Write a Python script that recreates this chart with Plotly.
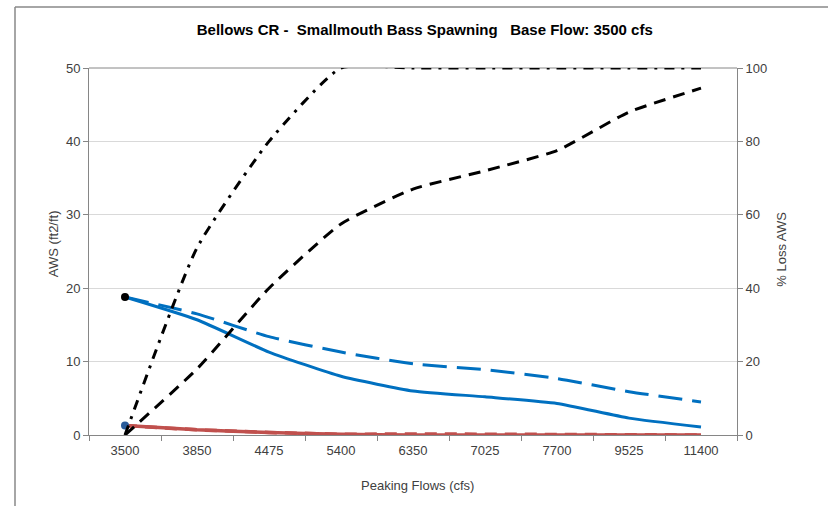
import plotly.graph_objects as go

flows = ["3500", "3850", "4475", "5400", "6350", "7025", "7700", "9525", "11400"]

aws_solid = [18.8, 15.7, 11.3, 8.0, 6.0, 5.2, 4.3, 2.3, 1.1]
aws_dashed = [18.8, 16.5, 13.4, 11.3, 9.7, 8.9, 7.7, 5.9, 4.5]
aws_red = [1.3, 0.7, 0.35, 0.1, 0.0, 0.0, 0.0, 0.0, 0.0]
aws_red_dashed = [1.3, 0.7, 0.35, 0.1, 0.15, 0.1, 0.0, 0.0, 0.0]
loss_dashdot = [0, 51, 80, 100, 100, 100, 100, 100, 100]
loss_dashed = [0, 18, 40, 57.5, 67, 72, 77.5, 88, 94.5]
base_aws_hi = [18.8]
base_aws_lo = [1.3]
base_flow = ["3500"]

BLUE = "#0070C0"
RED = "#C0504D"
FONT = "Liberation Sans, Arial, sans-serif"
TXT = "#404040"

fig = go.Figure()

fig.add_trace(go.Scatter(x=flows, y=loss_dashdot, yaxis="y2", mode="lines",
                         line=dict(color="black", width=3, dash="10px,7px,3px,7px", shape="spline", smoothing=0.5),
                         cliponaxis=False, showlegend=False))
fig.add_trace(go.Scatter(x=flows, y=loss_dashed, yaxis="y2", mode="lines",
                         line=dict(color="black", width=3, dash="12px,8px", shape="spline", smoothing=0.5),
                         showlegend=False))
fig.add_trace(go.Scatter(x=flows, y=aws_red_dashed, mode="lines",
                         line=dict(color=RED, width=3.5, dash="12px,8px"),
                         showlegend=False))
fig.add_trace(go.Scatter(x=flows, y=aws_red, mode="lines",
                         line=dict(color=RED, width=3.5, shape="spline", smoothing=0.4),
                         showlegend=False))
fig.add_trace(go.Scatter(x=flows, y=aws_dashed, mode="lines",
                         line=dict(color=BLUE, width=3, dash="24px,10px", shape="spline", smoothing=0.5),
                         showlegend=False))
fig.add_trace(go.Scatter(x=flows, y=aws_solid, mode="lines",
                         line=dict(color=BLUE, width=3, shape="spline", smoothing=0.5),
                         showlegend=False))
fig.add_trace(go.Scatter(x=base_flow, y=base_aws_hi, mode="markers",
                         marker=dict(color="black", size=8), showlegend=False))
fig.add_trace(go.Scatter(x=base_flow, y=base_aws_lo, mode="markers",
                         marker=dict(color="#2A5C9A", size=8), showlegend=False))

TITLE = "Bellows CR -&nbsp; Smallmouth Bass Spawning&nbsp;&nbsp; Base Flow: 3500 cfs"

fig.update_layout(
    width=828, height=506,
    margin=dict(l=89, r=91, t=68, b=71),
    paper_bgcolor="white", plot_bgcolor="white",
    font=dict(family=FONT, size=13, color=TXT),
    title=dict(text="<b>" + TITLE + "</b>",
               x=0.513, xanchor="center", y=1 - 30 / 506, yanchor="middle",
               font=dict(family=FONT, size=15, color="black")),
    xaxis=dict(type="category", range=[-0.5, len(flows) - 0.5], tickson="boundaries",
               ticks="outside", ticklen=5,
               tickcolor="#868686", showline=True, linecolor="#868686", linewidth=1,
               showgrid=False, zeroline=False, ticklabelstandoff=3,
               tickfont=dict(size=13, color=TXT)),
    yaxis=dict(range=[0, 50], dtick=10, ticks="outside", ticklen=5, tickcolor="#868686",
               showline=True, linecolor="#868686", linewidth=1,
               showgrid=True, gridcolor="#D9D9D9", gridwidth=1, zeroline=False,
               tickfont=dict(size=13, color=TXT)),
    yaxis2=dict(range=[0, 100], dtick=20, overlaying="y", side="right",
                ticks="outside", ticklen=5, tickcolor="#868686",
                showline=True, linecolor="#868686", linewidth=1,
                showgrid=False, zeroline=False, tickfont=dict(size=13, color=TXT)),
    annotations=[
        dict(text="AWS (ft2/ft)", x=(53 - 89) / 648, y=0.52, xref="paper", yref="paper",
             textangle=-90, showarrow=False, font=dict(size=13, color=TXT),
             xanchor="center", yanchor="middle"),
        dict(text="% Loss AWS", x=(782 - 89) / 648, y=0.505, xref="paper", yref="paper",
             textangle=-90, showarrow=False, font=dict(size=13, color=TXT),
             xanchor="center", yanchor="middle"),
        dict(text="Peaking Flows (cfs)", x=(417 - 89) / 648, y=(435 - 485) / 367,
             xref="paper", yref="paper", showarrow=False, font=dict(size=13, color=TXT),
             xanchor="center", yanchor="middle"),
    ],
    shapes=[
        dict(type="line", xref="paper", yref="paper",
             x0=(15 - 89) / 648, x1=(840 - 89) / 648, y0=(435 - 7) / 367, y1=(435 - 7) / 367,
             line=dict(color="#888888", width=1.5)),
        dict(type="line", xref="paper", yref="paper",
             x0=(15 - 89) / 648, x1=(15 - 89) / 648, y0=(435 - 7) / 367, y1=(435 - 520) / 367,
             line=dict(color="#888888", width=1.5)),
        dict(type="line", xref="paper", yref="paper", x0=0, x1=1, y0=1, y1=1,
             line=dict(color="#868686", width=1), layer="below"),
    ],
)

fig.write_html("out.html", config={"displayModeBar": False},
               post_script="document.body.style.margin='0';document.body.style.overflow='hidden';")
